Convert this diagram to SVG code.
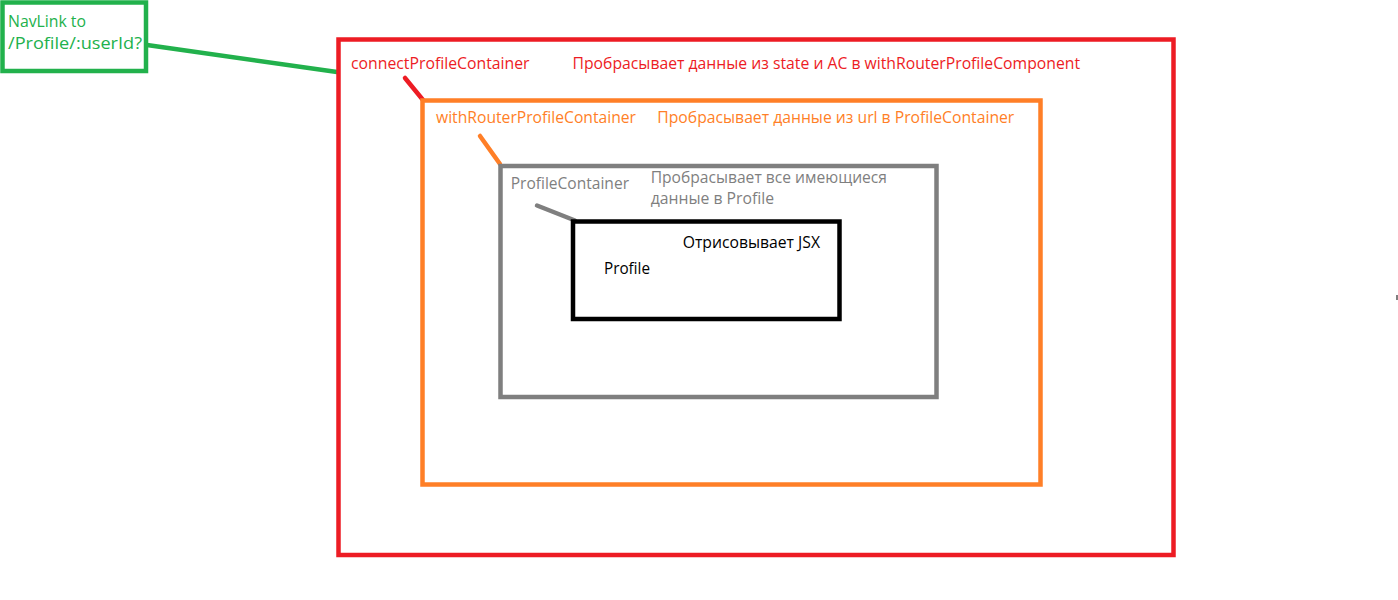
<svg xmlns="http://www.w3.org/2000/svg" width="1398" height="600" viewBox="0 0 1398 600">
<style>
text{font-family:"Open Sans","Noto Sans","DejaVu Sans",sans-serif;font-size:16px}
.box{fill:none;stroke-width:4.5}
.ln{stroke-width:4.5;stroke-linecap:round}
</style>
<rect width="1398" height="600" fill="#fff"/>
<g id="connectors">
<line class="ln" x1="147" y1="45" x2="337" y2="72" stroke="#22b14c" stroke-linecap="butt"/>
<line class="ln" x1="405" y1="78" x2="423" y2="100" stroke="#ed1c24"/>
<line class="ln" x1="480" y1="136" x2="500" y2="164" stroke="#ff7f27"/>
<line class="ln" x1="537" y1="205.5" x2="575" y2="220.5" stroke="#7f7f7f"/>
</g>
<g id="navlink">
<rect class="box" x="2.5" y="2.5" width="143.5" height="68.5" stroke="#22b14c"/>
<text x="8" y="26.7" fill="#22b14c" textLength="78" lengthAdjust="spacingAndGlyphs">NavLink to</text>
<text x="8" y="49.3" fill="#22b14c" textLength="134" lengthAdjust="spacingAndGlyphs">/Profile/:userId?</text>
</g>
<g id="connectProfileContainer">
<rect class="box" x="338.5" y="39.5" width="835" height="515.5" stroke="#ed1c24"/>
<text x="351" y="68.5" fill="#ed1c24" textLength="178.5" lengthAdjust="spacingAndGlyphs">connectProfileContainer</text>
<text x="572.5" y="68.5" fill="#ed1c24" textLength="507.5" lengthAdjust="spacingAndGlyphs">Пробрасывает данные из state и AC в withRouterProfileComponent</text>
</g>
<g id="withRouterProfileContainer">
<rect class="box" x="422.5" y="100.5" width="618" height="384" stroke="#ff7f27"/>
<text x="436" y="123.3" fill="#ff7f27" textLength="200" lengthAdjust="spacingAndGlyphs">withRouterProfileContainer</text>
<text x="657.3" y="123" fill="#ff7f27" textLength="357" lengthAdjust="spacingAndGlyphs">Пробрасывает данные из url в ProfileContainer</text>
</g>
<g id="ProfileContainer">
<rect class="box" x="500.5" y="166" width="436" height="231" stroke="#7f7f7f"/>
<text x="510.7" y="188.5" fill="#7f7f7f" textLength="118.3" lengthAdjust="spacingAndGlyphs">ProfileContainer</text>
<text x="650.7" y="182.8" fill="#7f7f7f" textLength="236.3" lengthAdjust="spacingAndGlyphs">Пробрасывает все имеющиеся</text>
<text x="650.7" y="204.2" fill="#7f7f7f" textLength="123.3" lengthAdjust="spacingAndGlyphs">данные в Profile</text>
</g>
<g id="Profile">
<rect class="box" x="573" y="221.5" width="266.5" height="97.5" stroke="#000"/>
<text x="682.7" y="247.5" fill="#000" textLength="137.3" lengthAdjust="spacingAndGlyphs">Отрисовывает JSX</text>
<text x="604" y="274.3" fill="#000" textLength="46" lengthAdjust="spacingAndGlyphs">Profile</text>
</g>
<rect x="1396" y="295" width="2" height="5" fill="#7f7f7f"/>
</svg>
